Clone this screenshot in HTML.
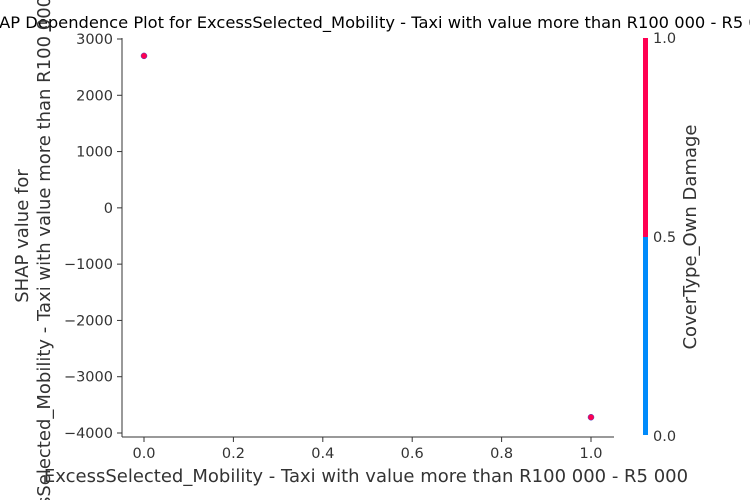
<!DOCTYPE html>
<html><head><meta charset="utf-8"><style>
html,body{margin:0;background:#fff;overflow:hidden;width:750px;height:500px;}
svg{display:block;overflow:hidden;}
svg text{font-family:"DejaVu Sans","Liberation Sans",sans-serif;fill:#333;}
</style></head><body>
<svg id="chart" width="750" height="500" xmlns="http://www.w3.org/2000/svg">
<text x="378" y="28" text-anchor="middle" font-size="16.3" style="fill:#000">SHAP Dependence Plot for ExcessSelected_Mobility - Taxi with value more than R100 000 - R5 000</text>
<g id="axes"></g>
<g id="marks"></g>
<text x="366" y="482" text-anchor="middle" font-size="18">ExcessSelected_Mobility - Taxi with value more than R100 000 - R5 000</text>
<text transform="translate(31,236) rotate(-90)" text-anchor="middle" font-size="18"><tspan x="0" dy="-3">SHAP value for</tspan><tspan x="0" dy="22">ExcessSelected_Mobility - Taxi with value more than R100 000 - R5 000</tspan></text>
<rect x="643" y="38" width="5" height="199" fill="#ff0052"/>
<rect x="643" y="237" width="5" height="198" fill="#008bfb"/>
<text x="653" y="43" font-size="14.5">1.0</text>
<text x="653" y="242" font-size="14.5">0.5</text>
<text x="653" y="441" font-size="14.5">0.0</text>
<text transform="translate(696,237) rotate(-90)" text-anchor="middle" font-size="18">CoverType_Own Damage</text>
</svg>
<script>
const xTicks=[0,0.2,0.4,0.6,0.8,1.0];
const xTickLabels=["0.0","0.2","0.4","0.6","0.8","1.0"];
const yTicks=[3000,2000,1000,0,-1000,-2000,-3000,-4000];
const yTickLabels=["3000","2000","1000","0","\u22121000","\u22122000","\u22123000","\u22124000"];
const xValues=[0,1];
const shapValues=[2700,-3720];
const colorValues=[1,1];
const NS="http://www.w3.org/2000/svg";
const xs=v=>144+v*447;
const ys=v=>39+(3000-v)*(394/7000);
const axes=document.getElementById('axes'),marks=document.getElementById('marks');
function mk(tag,attrs,parent){const e=document.createElementNS(NS,tag);for(const k in attrs)e.setAttribute(k,attrs[k]);parent.appendChild(e);return e;}
let l=mk('line',{x1:122,y1:38,x2:122,y2:437,stroke:'#333'},axes);


l=mk('line',{x1:122,y1:437,x2:614,y2:437,stroke:'#333'},axes);


xTicks.forEach((t,i)=>{
 const x=xs(t);
 mk('line',{x1:x,y1:437,x2:x,y2:442,stroke:'#333'},axes);
 const tx=mk('text',{x:x,y:458,'text-anchor':'middle','font-size':14.5},axes);
 tx.textContent=xTickLabels[i];
 
 
});
yTicks.forEach((t,i)=>{
 const y=ys(t);
 mk('line',{x1:117,y1:y,x2:122,y2:y,stroke:'#333'},axes);
 const tx=mk('text',{x:113,y:y+5,'text-anchor':'end','font-size':14.5},axes);
 tx.textContent=yTickLabels[i];
 
 
});
xValues.forEach((v,i)=>{
 const c=mk('circle',{cx:xs(v),cy:ys(shapValues[i]),r:3,fill:colorValues[i]>0.5?'#ff0052':'#008bfb',stroke:'#4040c0','stroke-width':0.5},marks);
 
 
});
</script>
</body></html>
